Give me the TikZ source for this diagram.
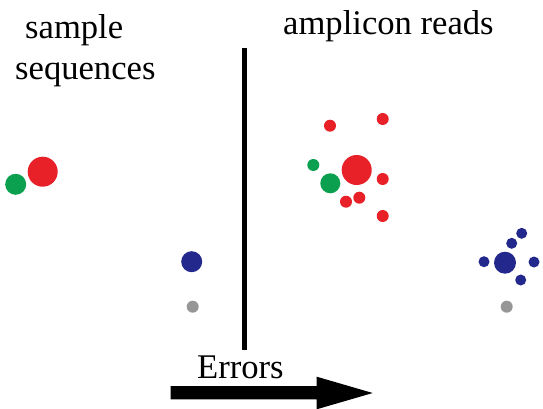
\documentclass[tikz,border=0pt]{standalone}
\usepackage{fontspec}
\setmainfont{Liberation Serif}
\definecolor{cred}{RGB}{232,32,40}
\definecolor{cgreen}{RGB}{10,160,80}
\definecolor{cblue}{RGB}{35,40,140}
\definecolor{cgray}{RGB}{150,150,150}
\begin{document}
\begin{tikzpicture}[x=1pt,y=-1pt,
  dot/.style={circle,inner sep=0pt,minimum size=#1,draw=none},
  lbl/.style={anchor=base west,inner sep=0pt,font=\fontsize{34.6}{40}\selectfont}]
\useasboundingbox (0,0) rectangle (543,409);
% labels
\node[lbl] (t1) at (25,39) {sample};
\node[lbl] (t2) at (15,80) {sequences};
\node[lbl] (t3) at (283,35) {amplicon reads};
\node[lbl] (t4) at (197,378) {Errors};
% divider
\draw[line width=4.5pt] (244.5,48) -- (244.5,350);
% arrow
\fill (170.7,386) -- (316.7,386) -- (316.7,376.7) -- (372.7,393) -- (316.7,409.3) -- (316.7,399.3) -- (170.7,399.3) -- cycle;
% left: sample sequences
\node[dot=30pt,fill=cred] (sr) at (42.7,171.7) {};
\node[dot=21pt,fill=cgreen] (sg) at (15.7,184.3) {};
\node[dot=21pt,fill=cblue] (sb) at (191.7,261.7) {};
\node[dot=12pt,fill=cgray] (sy) at (192.7,306.7) {};
% right: amplicon reads
\node[dot=30pt,fill=cred] (ar) at (356.7,170) {};
\node[dot=20pt,fill=cgreen] (ag) at (330.3,183.3) {};
\node[dot=12pt,fill=cgreen] (ag2) at (313.3,165) {};
\node[dot=12pt,fill=cred] (r1) at (330,125.7) {};
\node[dot=12pt,fill=cred] (r2) at (382.7,119) {};
\node[dot=12pt,fill=cred] (r3) at (382.7,179) {};
\node[dot=12pt,fill=cred] (r4) at (346,201.7) {};
\node[dot=12pt,fill=cred] (r5) at (359.3,197.7) {};
\node[dot=12pt,fill=cred] (r6) at (382.7,216) {};
\node[dot=22pt,fill=cblue] (ab) at (505,262.7) {};
\node[dot=11pt,fill=cblue] (b1) at (484,261.7) {};
\node[dot=11pt,fill=cblue] (b2) at (534,262) {};
\node[dot=11pt,fill=cblue] (b3) at (521.7,233.3) {};
\node[dot=11pt,fill=cblue] (b4) at (511.7,243.3) {};
\node[dot=11pt,fill=cblue] (b5) at (520.7,280) {};
\node[dot=12pt,fill=cgray] (ay) at (506.7,306.7) {};
\end{tikzpicture}
\end{document}
